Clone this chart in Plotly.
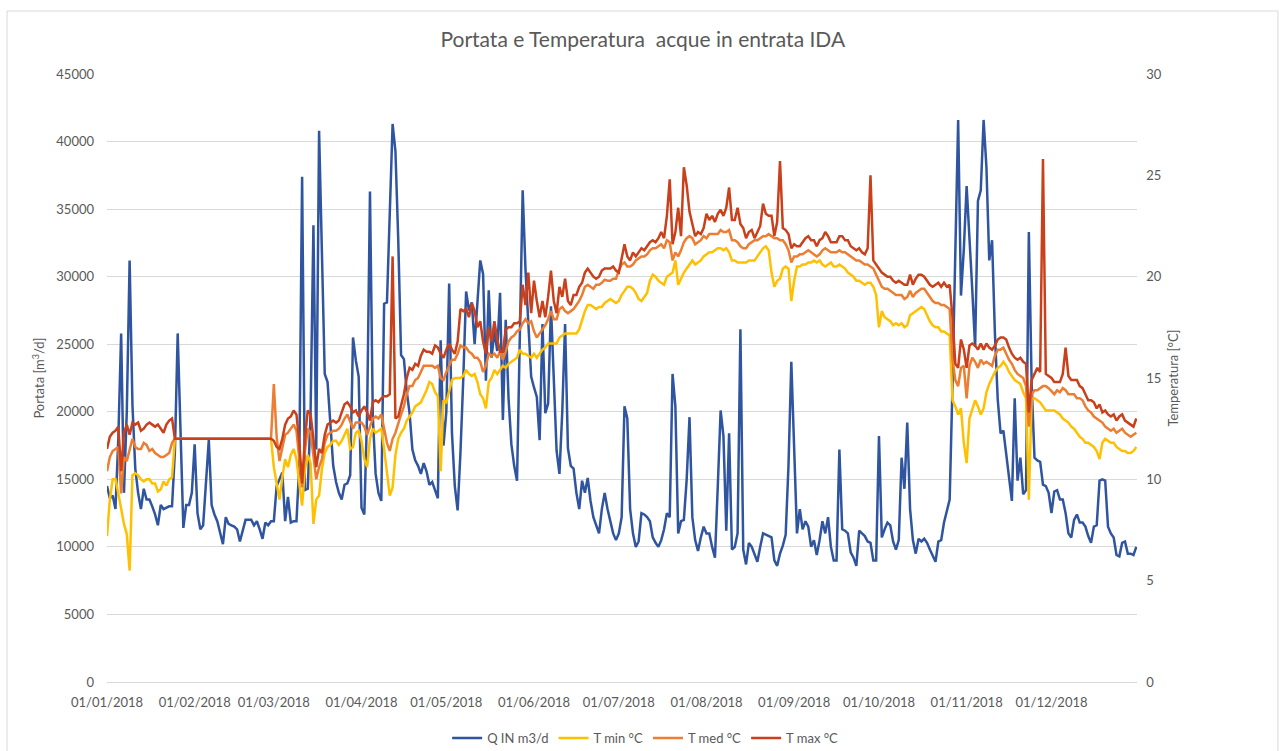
import calendar
import pandas as pd
import plotly.graph_objects as go
from plotly.subplots import make_subplots

# ---------------- data (daily, 2018) ----------------
month_labels = ["01/01/2018", "01/02/2018", "01/03/2018", "01/04/2018", "01/05/2018", "01/06/2018",
                "01/07/2018", "01/08/2018", "01/09/2018", "01/10/2018", "01/11/2018", "01/12/2018"]

q_in_months = [
    [14500, 13600, 13800, 12800, 18000, 25800, 14000, 20000, 31200, 20500, 15800, 14000, 12800, 14300, 13500, 13500,
     13000, 12400, 11600, 13100, 12800, 12900, 13000, 13000, 17000, 25800, 18000, 11400, 13100, 13100, 14000],
    [17600, 12500, 11300, 11600, 14500, 17900, 13100, 12400, 11900, 11000, 10200, 12200, 11700, 11600, 11500, 11300,
     10400, 11200, 12000, 12000, 12000, 11600, 11900, 11300, 10600, 11800, 11600, 11900],
    [11900, 14500, 15000, 15500, 11900, 13700, 11800, 11900, 11900, 16000, 37400, 14200, 14300, 20000, 33800, 17200,
     40800, 31000, 22800, 22200, 19100, 16000, 14800, 14000, 13500, 14600, 14700, 15300, 25500, 23800, 22600],
    [12900, 12400, 20000, 36300, 19600, 15400, 14000, 13400, 28000, 28100, 35000, 41300, 39300, 32700, 24200, 23900,
     21500, 19900, 17200, 16400, 16000, 15400, 16200, 15600, 14600, 14800, 14200, 13600, 25300, 17500],
    [20000, 29500, 18400, 14500, 12700, 17000, 22500, 28900, 27500, 28100, 25000, 28500, 31200, 30200, 22300, 29000,
     24000, 26000, 24500, 28800, 19400, 26800, 21000, 17600, 16000, 14900, 25000, 36400, 30500, 26000, 22600],
    [21800, 21100, 17900, 26500, 19900, 20600, 27800, 22100, 17100, 15400, 20000, 26500, 17300, 16000, 15800, 14000,
     12800, 14900, 14000, 15100, 13400, 12200, 11600, 11000, 12800, 14000, 12800, 11800, 11000, 10500],
    [11000, 12200, 20400, 19500, 12800, 11000, 10000, 10400, 12500, 12400, 12200, 11900, 10700, 10300, 10000, 10500,
     11300, 12500, 12200, 22800, 20400, 11000, 11900, 12000, 15000, 19600, 12200, 10500, 9700, 10700, 11500],
    [11000, 11000, 10000, 9200, 14500, 20100, 18200, 11200, 18400, 9800, 10000, 11000, 26100, 9800, 8700, 10300,
     10000, 9400, 8900, 10000, 11000, 10900, 10800, 10700, 9000, 8600, 9500, 10100, 10900, 16000, 23700],
    [17300, 11000, 12800, 11300, 11900, 11500, 10000, 10500, 9400, 10500, 11900, 11000, 12200, 10000, 9000, 9000,
     17200, 11300, 11200, 11000, 9600, 9200, 8600, 11200, 11000, 10800, 10400, 10300, 9000, 9000],
    [18200, 10700, 11300, 11800, 11600, 10400, 9800, 10500, 16600, 14300, 19200, 12800, 10500, 9500, 10600, 10400,
     10600, 10300, 9800, 9300, 8900, 10400, 10500, 11800, 12700, 13500, 22000, 33000, 41600, 28600, 32000],
    [36700, 33200, 29000, 24800, 35600, 36400, 41600, 38100, 31200, 32700, 25800, 20900, 18400, 18600, 17000, 15200,
     13400, 21000, 14900, 16600, 13900, 14200, 33300, 22000, 16600, 16400, 16300, 14600, 14500, 14000],
    [12500, 14100, 14200, 13500, 13500, 12500, 11000, 10700, 12000, 12400, 11800, 11800, 11500, 10800, 10300, 11500,
     11600, 14900, 15000, 14900, 11500, 11000, 10700, 9400, 9300, 10300, 10400, 9500, 9500, 9400, 10000],
]

t_min_months = [
    [7.2, 9.0, 10.0, 10.0, 9.3, 8.5, 7.8, 7.3, 5.5, 10.2, 10.3, 10.2, 10.0, 9.9, 10.0, 10.0, 9.8, 9.8, 9.4, 9.5,
     9.9, 9.7, 10.0, 10.1, 12.0, 12.0, 12.0, 12.0, 12.0, 12.0, 12.0],
    [12.0] * 28,
    [10.6, 9.8, 9.0, 10.1, 11.0, 10.6, 11.2, 11.5, 11.0, 9.8, 8.7, 10.5, 11.2, 10.8, 7.8, 9.0, 9.2, 10.5, 11.3, 11.6,
     11.7, 11.9, 11.9, 11.7, 11.9, 12.2, 12.5, 11.5, 11.6, 12.3, 12.4],
    [11.9, 11.0, 10.6, 12.0, 12.5, 12.3, 12.4, 12.5, 11.5, 10.2, 9.2, 9.6, 11.2, 12.0, 12.3, 12.5, 12.9, 13.1, 13.3,
     13.6, 13.7, 13.8, 14.1, 14.4, 14.8, 14.7, 14.3, 14.1, 10.4, 13.9],
    [13.8, 14.4, 14.9, 15.0, 15.0, 15.0, 15.1, 15.4, 15.2, 15.1, 15.2, 14.8, 14.2, 14.0, 13.5, 14.8, 15.0, 15.4, 15.2,
     15.4, 15.6, 15.5, 15.7, 15.8, 15.9, 16.0, 16.4, 16.2, 16.2, 16.1, 16.0],
    [16.2, 16.0, 16.2, 16.4, 16.5, 16.7, 16.7, 16.7, 16.7, 17.0, 17.1, 17.2, 17.2, 17.2, 17.2, 17.2, 17.4, 17.9, 18.3,
     18.6, 18.6, 18.5, 18.4, 18.5, 18.5, 18.7, 18.8, 18.9, 18.8, 18.7],
    [18.8, 19.1, 19.3, 19.5, 19.5, 19.4, 19.2, 18.9, 18.8, 19.0, 19.2, 19.8, 20.1, 20.0, 19.8, 19.7, 19.6, 20.0, 20.1,
     20.2, 20.8, 19.6, 19.9, 20.2, 20.4, 20.6, 20.8, 20.6, 20.7, 20.8, 21.0],
    [21.1, 21.2, 21.2, 21.3, 21.4, 21.4, 21.3, 21.4, 21.2, 20.8, 20.8, 20.7, 20.7, 20.7, 20.7, 20.8, 20.8, 20.8, 21.0,
     21.2, 21.4, 21.5, 21.3, 20.2, 19.5, 19.8, 19.9, 20.4, 20.5, 20.4, 18.8],
    [19.8, 20.5, 20.5, 20.6, 20.6, 20.7, 20.7, 20.8, 20.7, 20.8, 20.6, 20.5, 20.6, 20.7, 20.5, 20.5, 20.6, 20.5, 20.4,
     20.2, 20.1, 20.0, 19.8, 19.8, 19.7, 19.6, 19.7, 19.7, 19.5, 19.1],
    [17.5, 18.3, 18.0, 17.9, 17.8, 17.6, 17.7, 17.6, 17.7, 17.5, 17.6, 18.1, 18.2, 18.3, 18.4, 18.5, 18.4, 18.1, 17.8,
     17.6, 17.5, 17.5, 17.3, 17.3, 17.2, 17.1, 13.9, 13.6, 13.2, 13.5, 11.8],
    [10.8, 13.0, 13.4, 13.9, 13.6, 13.2, 13.5, 14.3, 14.7, 15.0, 15.3, 15.5, 15.6, 15.8, 15.6, 15.3, 15.1, 14.9, 14.8,
     14.7, 14.3, 14.0, 9.0, 14.0, 14.0, 13.9, 13.8, 13.6, 13.4, 13.4],
    [13.4, 13.4, 13.3, 13.2, 13.0, 12.9, 12.8, 12.6, 12.5, 12.3, 12.1, 12.0, 11.8, 11.8, 11.7, 11.6, 11.4, 11.0, 11.8,
     12.0, 11.9, 11.8, 11.8, 11.6, 11.5, 11.4, 11.4, 11.3, 11.3, 11.4, 11.6],
]

t_med_months = [
    [10.4, 11.1, 11.4, 11.5, 11.6, 9.3, 11.1, 10.9, 11.5, 12.0, 11.6, 11.5, 11.5, 11.8, 11.7, 11.4, 11.5, 11.3, 11.2,
     11.1, 11.1, 11.2, 11.3, 11.8, 12.0, 12.0, 12.0, 12.0, 12.0, 12.0, 12.0],
    [12.0] * 28,
    [14.7, 12.1, 10.9, 11.5, 12.2, 12.3, 12.5, 12.7, 12.4, 11.0, 9.6, 11.4, 12.5, 12.3, 11.0, 10.0, 10.6, 11.0, 11.8,
     12.2, 12.3, 12.4, 12.4, 12.5, 12.7, 13.0, 13.2, 12.8, 12.5, 12.8, 12.8],
    [12.8, 12.6, 12.2, 12.6, 13.0, 13.1, 13.0, 13.2, 12.5, 11.8, 11.4, 12.0, 12.3, 12.8, 13.2, 13.6, 14.2, 14.6, 14.6,
     14.9, 15.0, 15.3, 15.6, 15.6, 15.6, 15.6, 15.5, 15.6, 15.0, 14.9],
    [15.3, 15.6, 15.9, 15.9, 16.2, 16.6, 16.5, 16.5, 16.3, 16.2, 16.0, 16.0, 15.8, 15.3, 15.6, 16.2, 16.1, 16.2, 16.0,
     16.3, 15.9, 16.3, 16.8, 17.0, 17.1, 17.3, 17.4, 17.7, 17.9, 17.7, 17.8],
    [17.3, 17.0, 17.2, 17.4, 17.6, 17.9, 18.3, 17.9, 17.9, 18.4, 18.5, 18.3, 18.2, 18.3, 18.4, 18.6, 18.8, 19.1, 19.5,
     19.6, 19.5, 19.4, 19.6, 19.6, 19.7, 19.85, 19.8, 19.8, 19.9, 19.9],
    [20.3, 20.6, 20.7, 20.5, 20.5, 20.6, 20.8, 20.9, 21.0, 21.0, 21.1, 21.3, 21.4, 21.4, 21.5, 21.6, 21.4, 21.8, 21.7,
     20.8, 21.2, 21.0, 21.3, 21.7, 21.9, 22.0, 21.9, 21.6, 21.7, 21.8, 22.0],
    [21.9, 22.1, 22.1, 22.1, 22.1, 22.3, 22.2, 22.2, 22.3, 21.8, 21.8, 21.7, 21.5, 21.4, 21.4, 21.6, 21.7, 21.8, 21.8,
     21.9, 22.0, 22.0, 22.1, 22.0, 21.9, 21.9, 21.8, 21.8, 21.6, 21.3, 20.7],
    [21.0, 21.0, 21.1, 21.1, 21.2, 21.3, 21.2, 21.1, 21.0, 21.1, 21.3, 21.4, 21.3, 21.2, 21.2, 21.2, 21.3, 21.2, 21.2,
     21.1, 21.0, 20.9, 20.8, 20.8, 20.7, 20.6, 20.6, 20.5, 20.4, 20.1],
    [19.8, 19.5, 19.4, 19.4, 19.3, 19.2, 19.1, 19.1, 19.1, 18.9, 19.0, 19.3, 19.0, 19.2, 19.3, 19.4, 19.4, 19.2, 19.0,
     18.8, 18.7, 18.7, 18.6, 18.6, 18.5, 18.4, 15.9, 14.9, 14.6, 15.5, 15.6],
    [14.0, 15.6, 16.0, 15.8, 15.5, 15.9, 15.7, 15.8, 15.7, 15.6, 16.1, 16.4, 16.4, 16.5, 16.2, 15.9, 15.7, 15.4, 15.2,
     15.1, 15.0, 14.6, 12.6, 14.2, 14.4, 14.4, 14.5, 14.6, 14.6, 14.5],
    [14.35, 14.2, 14.4, 14.3, 14.5, 14.4, 14.2, 14.2, 14.2, 14.0, 14.0, 13.9, 13.6, 13.4, 13.3, 13.1, 13.0, 12.9, 12.8,
     12.6, 12.5, 12.4, 12.5, 12.3, 12.4, 12.5, 12.3, 12.2, 12.1, 12.2, 12.3],
]

t_max_months = [
    [11.5, 12.1, 12.3, 12.4, 12.6, 10.4, 12.3, 12.7, 12.2, 12.8, 12.7, 12.8, 12.4, 12.5, 12.7, 12.8, 12.7, 12.6, 12.7,
     12.5, 12.3, 12.7, 12.9, 13.0, 12.0, 12.0, 12.0, 12.0, 12.0, 12.0, 12.0],
    [12.0] * 28,
    [11.9, 11.6, 11.5, 12.0, 12.7, 13.0, 13.1, 13.4, 13.2, 11.8, 9.8, 12.0, 13.4, 13.2, 12.0, 10.6, 11.5, 11.3, 12.2,
     12.7, 12.8, 12.9, 12.8, 12.9, 13.3, 13.7, 13.8, 13.6, 13.3, 13.4, 13.1],
    [13.4, 13.6, 13.3, 12.9, 13.8, 13.9, 13.8, 14.0, 14.1, 14.1, 14.2, 21.0, 13.0, 13.1, 13.6, 14.2, 15.0, 15.5, 15.4,
     15.7, 15.6, 16.1, 16.4, 16.3, 16.3, 16.2, 16.6, 16.5, 16.2, 16.0],
    [16.4, 16.7, 16.4, 16.2, 16.8, 18.4, 18.3, 18.4, 18.0, 18.7, 18.3, 17.5, 17.8, 16.8, 16.2, 17.5, 16.8, 17.8, 16.9,
     16.3, 16.3, 17.4, 17.5, 17.5, 17.7, 17.7, 17.8, 19.6, 18.6, 20.2, 18.2],
    [19.8, 18.8, 18.0, 18.8, 18.0, 19.0, 20.3, 18.8, 18.2, 19.5, 19.0, 19.9, 18.8, 18.6, 19.1, 19.1, 19.5, 19.7, 20.2,
     20.4, 20.2, 20.0, 19.9, 20.0, 20.3, 20.4, 20.4, 20.4, 20.5, 20.3],
    [20.2, 21.0, 21.6, 21.0, 20.8, 21.2, 21.0, 21.2, 21.4, 21.3, 21.5, 21.7, 21.8, 21.7, 21.9, 22.2, 21.9, 23.0, 24.8,
     21.6, 22.2, 23.4, 22.0, 25.4, 24.5, 23.2, 22.6, 22.0, 22.2, 22.1, 22.4],
    [23.1, 22.8, 23.0, 22.7, 23.1, 23.3, 23.0, 23.4, 24.4, 22.8, 22.8, 23.4, 22.6, 22.4, 21.9, 22.2, 22.3, 21.9, 22.2,
     22.5, 23.6, 23.1, 23.0, 23.0, 22.0, 22.7, 25.7, 22.4, 22.3, 22.1, 21.4],
    [21.6, 21.5, 21.5, 21.7, 21.9, 22.0, 21.8, 21.8, 21.5, 21.8, 21.9, 22.2, 22.0, 21.7, 21.7, 21.7, 22.0, 22.0, 21.8,
     21.8, 21.5, 21.4, 21.3, 21.4, 21.2, 21.1, 21.4, 25.0, 20.8, 20.6],
    [20.4, 20.2, 20.1, 20.0, 20.0, 19.8, 19.7, 19.8, 19.7, 19.6, 19.6, 20.1, 19.6, 19.9, 20.1, 20.1, 20.0, 19.8, 19.6,
     19.5, 19.6, 19.7, 19.5, 19.7, 19.5, 19.6, 18.0, 15.7, 15.5, 16.9, 16.4],
    [15.5, 16.6, 16.7, 16.6, 16.4, 16.7, 16.4, 16.7, 16.5, 16.4, 16.6, 16.9, 17.0, 17.0, 16.9, 16.5, 16.2, 16.0, 15.9,
     16.0, 15.8, 15.7, 13.3, 14.9, 15.2, 15.5, 15.3, 25.8, 15.2, 15.1],
    [15.0, 14.8, 14.8, 14.8, 15.2, 16.5, 15.1, 14.9, 14.9, 14.9, 14.6, 14.5, 14.2, 13.9, 13.9, 13.8, 13.5, 13.7, 13.3,
     13.4, 13.2, 13.1, 13.2, 12.9, 13.1, 13.2, 12.9, 12.8, 12.7, 12.6, 13.0],
]

# sanity check: one value per calendar day
for name, series in [("q", q_in_months), ("tmin", t_min_months), ("tmed", t_med_months), ("tmax", t_max_months)]:
    for m, vals in enumerate(series, start=1):
        assert len(vals) == calendar.monthrange(2018, m)[1], (name, m, len(vals))

q_in = [v for m in q_in_months for v in m]
t_min = [v for m in t_min_months for v in m]
t_med = [v for m in t_med_months for v in m]
t_max = [v for m in t_max_months for v in m]
dates = pd.date_range("2018-01-01", periods=len(q_in), freq="D")

# ---------------- figure ----------------
TEXT = "#595959"
GRID = "#d9d9d9"
FONT = "Lato, 'Open Sans', sans-serif"

fig = make_subplots(specs=[[{"secondary_y": True}]])
fig.add_trace(go.Scatter(x=dates, y=q_in, name="Q IN m3/d", mode="lines",
                         line=dict(color="#2F54A0", width=2.5)), secondary_y=False)
fig.add_trace(go.Scatter(x=dates, y=t_min, name="T min °C", mode="lines",
                         line=dict(color="#FFC000", width=2.5)), secondary_y=True)
fig.add_trace(go.Scatter(x=dates, y=t_med, name="T med °C", mode="lines",
                         line=dict(color="#ED7D31", width=2.5)), secondary_y=True)
fig.add_trace(go.Scatter(x=dates, y=t_max, name="T max °C", mode="lines",
                         line=dict(color="#C9401A", width=2.5)), secondary_y=True)

fig.update_layout(
    width=1283, height=751, autosize=False,
    margin=dict(l=107, r=80, t=74, b=69, autoexpand=False),
    paper_bgcolor="white", plot_bgcolor="white",
    font=dict(family=FONT, color=TEXT, size=13),
    title=dict(text="Portata e Temperatura  acque in entrata IDA", x=0.501, xref="container", xanchor="center",
               y=1 - 40 / 751, yref="container", yanchor="middle", font=dict(size=21, color=TEXT, family=FONT)),
    showlegend=True,
    legend=dict(orientation="h", x=0.491, xanchor="center", y=-0.092, yanchor="middle",
                font=dict(size=13, color=TEXT), itemwidth=30, bgcolor="rgba(0,0,0,0)"),
    shapes=[dict(type="rect", xref="paper", yref="paper", x0=-0.0912, x1=1.0684, y0=-0.2, y1=1.1036,
                 line=dict(color=GRID, width=1), fillcolor="rgba(0,0,0,0)", layer="below")],
)

fig.update_xaxes(type="date", range=["2018-01-01", "2018-12-31 08:00"], tick0="2018-01-01", dtick="M1",
                 tickformat="%d/%m/%Y", showgrid=False, zeroline=False, showline=True, linecolor=GRID,
                 ticks="", ticklabelstandoff=8, tickfont=dict(size=13, color=TEXT))
fig.update_yaxes(range=[0, 45000], tick0=0, dtick=5000, tickformat="d", showgrid=True, gridcolor=GRID,
                 gridwidth=1, zeroline=False, showline=False, ticks="", ticklabelstandoff=12,
                 tickfont=dict(size=13, color=TEXT),
                 title=dict(text="Portata [m<sup>3</sup>/d]", standoff=8, font=dict(size=13, color=TEXT)),
                 secondary_y=False)
fig.update_yaxes(range=[0, 30], tick0=0, dtick=5, showgrid=False, zeroline=False, showline=False, ticks="",
                 ticklabelstandoff=8, tickfont=dict(size=13, color=TEXT),
                 title=dict(text="Temperatura [°C]", standoff=8, font=dict(size=13, color=TEXT)),
                 secondary_y=True)

# no modebar; remove the browser's default 8px body margin so the figure sits at the page origin
fig.write_html("out.html", config={"displayModeBar": False},
               post_script="document.body.style.margin='0';document.documentElement.style.overflow='hidden';")
